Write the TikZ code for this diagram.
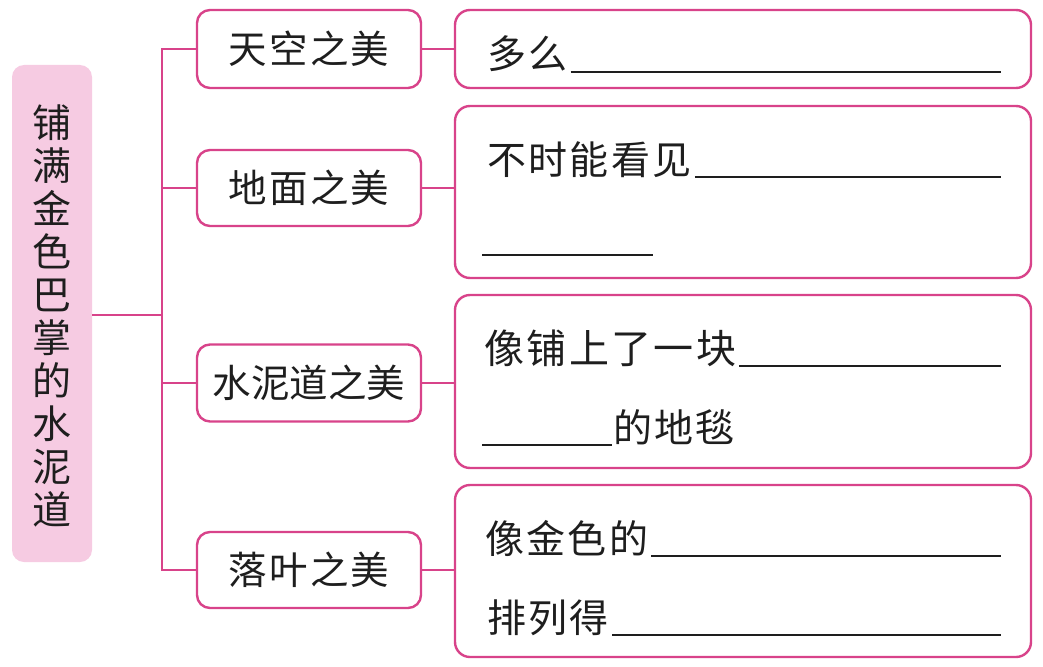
\documentclass[tikz,border=0pt]{standalone}
\usepackage{fontspec}
\newfontfamily\cjk[LetterSpace=6]{Noto Sans CJK SC}
\newfontfamily\cjkcol{Noto Sans CJK SC}
\definecolor{pinkline}{HTML}{D8438A}
\definecolor{pinkfill}{HTML}{F6CBE2}
\definecolor{ink}{HTML}{1E1E1E}
\tikzset{
  link/.style={draw=pinkline, line width=2.4pt},
  midbox/.style={draw=pinkline, line width=2.4pt, rounded corners=13pt, fill=white,
    minimum width=224pt, inner sep=0pt, text=ink, font=\cjk\fontsize{38.5}{40}\selectfont},
  rbox/.style={draw=pinkline, line width=2.4pt, rounded corners=15pt, fill=white,
    minimum width=576pt, inner sep=0pt},
  rtext/.style={anchor=base west, inner sep=0pt, text=ink, font=\cjk\fontsize{39}{40}\selectfont},
  blank/.style={draw=ink, line width=1.3pt}
}
\begin{document}
\begin{tikzpicture}[x=1pt,y=-1pt]
\useasboundingbox (0,0) rectangle (1043,666);
% left title
\node[draw=none, fill=pinkfill, rounded corners=12pt, minimum width=80pt, minimum height=497pt, inner sep=0pt] (L) at (52,313.5) {};
\node[align=center, inner sep=0pt, text=ink, font=\cjkcol\fontsize{39}{43}\selectfont] (Lt) at (52,316) {铺\\满\\金\\色\\巴\\掌\\的\\水\\泥\\道};
% middle boxes
\node[midbox, minimum height=78pt] (n1) at (309,49) {天空之美};
\node[midbox, minimum height=76pt] (n2) at (309,188) {地面之美};
\node[midbox, minimum height=77pt, font=\cjkcol\fontsize{38.5}{40}\selectfont] (n3) at (309,383) {水泥道之美};
\node[midbox, minimum height=76pt] (n4) at (309,570) {落叶之美};
% right boxes
\node[rbox, minimum height=78pt] (r1) at (743,49) {};
\node[rbox, minimum height=172pt] (r2) at (743,192) {};
\node[rbox, minimum height=173pt] (r3) at (743,381.5) {};
\node[rbox, minimum height=172pt] (r4) at (743,571) {};
% tree connectors
\coordinate (j) at (162,315);
\draw[link] (L.east |- j) -- (j);
\draw[link] (n1.west) -- (n1.west -| j) -- (n4.west -| j) -- (n4.west);
\draw[link] (n2.west) -- (n2.west -| j);
\draw[link] (n3.west) -- (n3.west -| j);
\draw[link] (n1.east) -- (n1.east -| r1.west);
\draw[link] (n2.east) -- (n2.east -| r2.west);
\draw[link] (n3.east) -- (n3.east -| r3.west);
\draw[link] (n4.east) -- (n4.east -| r4.west);
% right texts
\coordinate (e) at (1001,0);
\node[rtext] (t1) at (487,69) {多么};
\draw[blank] ([xshift=3pt,yshift=-3pt]t1.base east) -- ([yshift=-3pt]t1.base -| e);
\node[rtext] (t2) at (487,174) {不时能看见};
\draw[blank] ([xshift=3pt,yshift=-3pt]t2.base east) -- ([yshift=-3pt]t2.base -| e);
\coordinate (b2) at (482,255);
\coordinate (b2e) at (653,255);
\draw[blank] (b2) -- (b2e);
\node[rtext, font=\cjk\fontsize{40}{40}\selectfont] (t3) at (484,363) {像铺上了一块};
\draw[blank] ([xshift=3pt,yshift=-3pt]t3.base east) -- ([yshift=-3pt]t3.base -| e);
\coordinate (b3) at (482,445);
\node[rtext] (t3b) at (613,442) {的地毯};
\draw[blank] (b3) -- ([xshift=-1pt,yshift=-3pt]t3b.base west);
\node[rtext] (t4) at (485,553) {像金色的};
\draw[blank] ([xshift=3pt,yshift=-3pt]t4.base east) -- ([yshift=-3pt]t4.base -| e);
\node[rtext] (t5) at (487,632) {排列得};
\draw[blank] ([xshift=3pt,yshift=-3pt]t5.base east) -- ([yshift=-3pt]t5.base -| e);
\end{tikzpicture}
\end{document}
